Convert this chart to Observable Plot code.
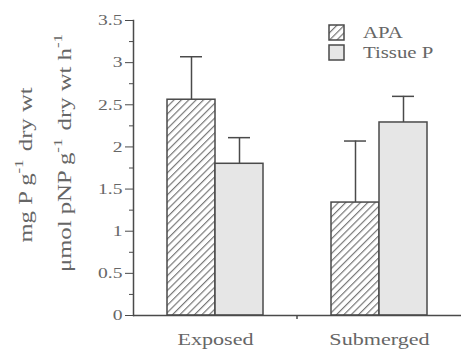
<!DOCTYPE html>
<html>
<head>
<meta charset="utf-8">
<script src="https://cdn.jsdelivr.net/npm/d3@7"></script>
<script src="https://cdn.jsdelivr.net/npm/@observablehq/plot@0.6"></script>
<style>
  html, body { margin: 0; padding: 0; background: #fff; }
  #chart { position: relative; width: 461px; height: 350px; }
  svg { overflow: visible; }
</style>
</head>
<body>
<div id="chart"></div>
<script>
// ---- data ----
const groups = ["Exposed", "Submerged"];
const seriesNames = ["APA", "Tissue P"];
const apaMeans = [2.56, 1.34];
const apaErrors = [0.51, 0.73];
const tissueMeans = [1.80, 2.29];
const tissueErrors = [0.31, 0.31];
const yTicks = [0, 0.5, 1, 1.5, 2, 2.5, 3, 3.5];
const yMinorTicks = [0.25, 0.75, 1.25, 1.75, 2.25, 2.75, 3.25];
const yLabelLine1 = [["mg P g", false], ["-1", true], [" dry wt", false]];
const yLabelLine2 = [["\u03bcmol pNP g", false], ["-1", true], [" dry wt h", false], ["-1", true]];

const rows = groups.flatMap((g, i) => [
  {group: g, series: seriesNames[0], value: apaMeans[i], err: apaErrors[i]},
  {group: g, series: seriesNames[1], value: tissueMeans[i], err: tissueErrors[i]}
]);

const ink = "#4a4a4a";
const textInk = "#666";

const chart = Plot.plot({
  width: 461,
  height: 350,
  marginLeft: 132,
  marginRight: 0,
  marginTop: 20,
  marginBottom: 35,
  style: {fontFamily: "'Liberation Serif', serif", fontSize: "15px", color: textInk, background: "#fff", overflow: "visible"},
  fx: {domain: groups, padding: 0, label: null, axis: null},
  x: {domain: seriesNames, paddingInner: 0, paddingOuter: 0.696, axis: null},
  y: {domain: [0, 3.5], label: null},
  color: {domain: seriesNames, range: ["url(#hatch)", "#e6e6e6"]},
  marks: [
    Plot.barY(rows, {fx: "group", x: "series", y: "value", fill: "series", stroke: ink, strokeWidth: 1.5}),
    Plot.ruleX(rows, {fx: "group", x: "series", y1: "value", y2: d => d.value + d.err, stroke: ink, strokeWidth: 1.5}),
    Plot.tickY(rows, {fx: "group", x: "series", y: d => d.value + d.err, stroke: ink, strokeWidth: 1.5, insetLeft: 13, insetRight: 13}),
    Plot.ruleY([0], {stroke: ink, strokeWidth: 1.5}),
    Plot.frame({anchor: "left", facetAnchor: "left", stroke: ink, strokeWidth: 1.5}),
    Plot.axisY(yTicks, {tickSize: 8, tickPadding: 3, tickFormat: d => String(d), stroke: ink, label: null, fill: textInk}),
    Plot.axisY(yMinorTicks, {tickSize: 4, tickFormat: () => "", stroke: ink, label: null}),
    Plot.axisFx({anchor: "bottom", tickSize: 0, tickPadding: 17, label: null, fontSize: 17, fill: textInk})
  ]
});

document.getElementById("chart").appendChild(chart);
const svg = d3.select(chart);

// hatch pattern used by the colour scale
const defs = svg.insert("defs", ":first-child");
const pat = defs.append("pattern")
  .attr("id", "hatch")
  .attr("patternUnits", "userSpaceOnUse")
  .attr("width", 5.2).attr("height", 5.2)
  .attr("patternTransform", "rotate(45)");
pat.append("rect").attr("width", 5.2).attr("height", 5.2).attr("fill", "#fff");
pat.append("line").attr("x1", 0.6).attr("y1", 0).attr("x2", 0.6).attr("y2", 5.2)
  .attr("stroke", "#6e6e6e").attr("stroke-width", 1.1);

// small tick between the groups on the x axis
const fx = chart.scale("fx");
const y = chart.scale("y");
const yBase = y.apply(0);
svg.append("line")
  .attr("x1", fx.apply(groups[1])).attr("x2", fx.apply(groups[1]))
  .attr("y1", yBase).attr("y2", yBase + 4)
  .attr("stroke", ink).attr("stroke-width", 1.5);

// y-axis titles (two rotated lines)
const yMid1 = 165, yMid2 = 152;
function addLabel(parts, x, yc) {
  const t = svg.append("text")
    .attr("transform", `translate(${x},${yc}) rotate(-90)`)
    .attr("text-anchor", "middle")
    .attr("font-family", "'Liberation Serif', serif")
    .attr("font-size", 19)
    .attr("fill", textInk);
  parts.forEach(([s, sup]) => {
    t.append("tspan")
      .attr("dy", sup ? -9 : 0)
      .attr("font-size", sup ? 13 : 19)
      .text(s);
    if (sup) t.append("tspan").attr("dy", 9).text("\u200a");
  });
  return t;
}
addLabel(yLabelLine1, 32, yMid1);
addLabel(yLabelLine2, 71, yMid2);

// legend inside the plot, top right
const color = chart.scale("color");
const lg = svg.append("g").attr("transform", "translate(329,25)");
color.domain.forEach((name, i) => {
  const g = lg.append("g").attr("transform", `translate(0,${i * 20})`);
  g.append("rect").attr("width", 15).attr("height", 15)
    .attr("fill", color.range[i]).attr("stroke", ink).attr("stroke-width", 1.5);
  g.append("text").attr("x", 34).attr("y", 13)
    .attr("text-anchor", "start")
    .attr("font-family", "'Liberation Serif', serif").attr("font-size", 16)
    .attr("fill", textInk).text(name);
});

// the original type is set wide: stretch every text along its run
svg.selectAll("text").each(function () {
  const len = this.getComputedTextLength();
  if (len > 0) {
    this.setAttribute("textLength", (len * 1.3).toFixed(1));
    this.setAttribute("lengthAdjust", "spacingAndGlyphs");
  }
});
</script>
</body>
</html>
